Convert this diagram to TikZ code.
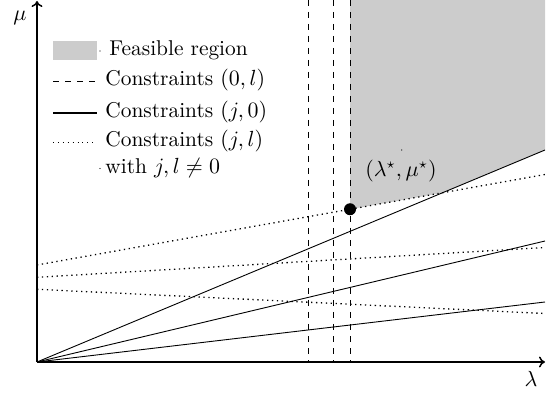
\documentclass[tikz,border=0pt]{standalone}
\usetikzlibrary{arrows.meta}
\begin{document}
\begin{tikzpicture}[x=0.5pt,y=-0.5pt,
  every node/.style={font=\fontsize{10.7pt}{13pt}\selectfont},
  axis/.style={line width=0.75pt,-{To[length=3pt,width=5.5pt]}},
  cons/.style={line width=0.45pt},
  dashcons/.style={line width=0.45pt,dashed},
  dotcons/.style={line width=0.65pt,dash pattern=on 0.65pt off 1.8pt},
  feas/.style={fill=gray!40,draw=none},
  legtext/.style={anchor=base west,inner sep=0pt}]
\useasboundingbox (0,0) rectangle (555,394);
% coordinates
\coordinate (O) at (37,362);
\coordinate (Ytop) at (37,1);
\coordinate (Xend) at (545,362);
\coordinate (Dp) at (350,209.25);
\coordinate (Ip) at (442.5,192.8);
% feasible region
\fill[feas] (350,0) -- (545,0) -- (545,150) -- (Ip) -- (Dp) -- cycle;
% dashed constraints (0,l)
\coordinate (d1t) at (308,0); \coordinate (d1b) at (308,362);
\coordinate (d2t) at (333,0); \coordinate (d2b) at (333,362);
\coordinate (d3t) at (350,0); \coordinate (d3b) at (350,362);
\draw[dashcons] (d1t) -- (d1b);
\draw[dashcons] (d2t) -- (d2b);
\draw[dashcons] (d3t) -- (d3b);
% solid constraints (j,0)
\coordinate (s1) at (545,150);
\coordinate (s2) at (545,241);
\coordinate (s3) at (545,302);
\draw[cons] (O) -- (s1);
\draw[cons] (O) -- (s2);
\draw[cons] (O) -- (s3);
% dotted constraints (j,l)
\coordinate (p1a) at (37,265);   \coordinate (p1b) at (545,174.5);
\coordinate (p2a) at (37,277.3); \coordinate (p2b) at (545,247.5);
\coordinate (p3a) at (37,289.3); \coordinate (p3b) at (545,313.5);
\draw[dotcons] (p1a) -- (p1b);
\draw[dotcons] (p2a) -- (p2b);
\draw[dotcons] (p3a) -- (p3b);
% axes
\draw[axis] (O) -- (Ytop);
\draw[axis] (O) -- (Xend);
\node (mu) at (20,18) {$\mu$};
\node (lam) at (531,379) {$\lambda$};
% optimum
\fill (Dp) circle (3pt);
\node (opt) at (401,171) {$(\lambda^\star,\mu^\star)$};
\fill (401.7,150) circle (0.3pt);
% legend
\fill[feas] (53,41.5) rectangle (97,60);
\fill (100,51) circle (0.3pt);
\node[legtext] (lt1) at (109,56) {Feasible region};
\coordinate (la2) at (53,81); \coordinate (lb2) at (97,81);
\draw[dashcons] (la2) -- (lb2);
\node[legtext] (lt2) at (105,86) {Constraints $(0,l)$};
\coordinate (la3) at (53,113); \coordinate (lb3) at (97,113);
\draw[cons,line width=0.6pt] (la3) -- (lb3);
\node[legtext] (lt3) at (105,118) {Constraints $(j,0)$};
\coordinate (la4) at (53,142); \coordinate (lb4) at (97,142);
\draw[dotcons,line width=0.45pt,dash pattern=on 0.45pt off 2pt] (la4) -- (lb4);
\node[legtext] (lt4) at (105,147) {Constraints $(j,l)$};
\fill (100,168.5) circle (0.3pt);
\node[legtext] (lt5) at (105,174) {with $j,l\neq 0$};
\end{tikzpicture}
\end{document}
